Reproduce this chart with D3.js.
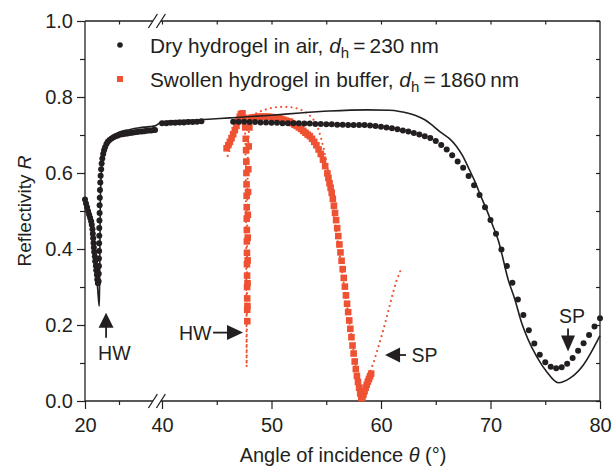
<!DOCTYPE html>
<html><head><meta charset="utf-8">
<script src="https://cdn.jsdelivr.net/npm/d3@7"></script>
<style>
body{margin:0;background:#fff}
svg{display:block}
text{font-family:"Liberation Sans",Arial,Helvetica,sans-serif;fill:#231f20}
</style>
</head><body>
<svg id="c" width="613" height="466"></svg>
<script>
// ---------- DATA ----------
const xMajor = [20, 40, 50, 60, 70, 80];
const xMinor = [21, 45, 55, 65, 75];
const yMajor = [0, 0.2, 0.4, 0.6, 0.8, 1.0];
const yMinor = [0.1, 0.3, 0.5, 0.7, 0.9];
const yAll = [0, 0.1, 0.2, 0.3, 0.4, 0.5, 0.6, 0.7, 0.8, 0.9, 1.0];
const xAll = [21, 40, 45, 50, 55, 60, 65, 70, 75];

// Dry hydrogel in air (measured, black dots)
const dryTheta = [
 20.00,20.03,20.06,20.09,20.12,20.15,20.18,20.20,20.22,20.23,20.24,20.25,20.26,20.27,20.29,20.30,20.32,20.33,20.35,20.36,20.38,
 20.40,20.405,20.41,20.41,20.415,20.415,20.42,20.42,20.425,20.43,20.43,20.435,20.44,20.45,20.46,20.475,20.49,20.51,20.535,20.56,20.59,20.63,20.67,20.72,20.78,20.84,20.90,20.97,21.04,21.11,21.18,21.25,21.32,21.39,21.46,21.53,21.60,21.67,21.74,21.81,21.88,21.95,22.02,22.06,
 40.0,40.4,40.8,41.2,41.6,42.0,42.4,42.8,43.2,43.6,
 46.5,47.0,47.5,48.0,48.5,49.0,49.5,50.0,50.5,51.0,51.5,52.0,52.5,53.0,53.5,54.0,54.5,55.0,55.5,56.0,56.5,57.0,57.5,58.0,58.5,59.0,59.5,60.0,60.5,61.0,61.5,62.0,62.5,63.0,63.5,64.0,64.5,65.0,65.5,66.0,66.5,67.0,67.5,68.0,68.5,69.0,69.5,70.0,70.5,71.0,71.5,72.0,72.5,73.0,73.5,74.0,74.5,75.0,75.5,76.0,76.5,77.0,77.5,78.0,78.5,79.0,79.5,80.0
];
const dryR = [
 .530,.520,.510,.500,.491,.482,.473,.464,.452,.440,.428,.416,.404,.392,.380,.368,.356,.344,.332,.320,.310,
 .315,.335,.355,.375,.395,.415,.435,.455,.475,.495,.515,.535,.555,.575,.593,.610,.625,.638,.650,.660,.668,.676,.682,.687,.691,.694,.697,.699,.701,.702,.703,.704,.705,.706,.707,.708,.709,.709,.710,.711,.712,.712,.713,.713,
 .731,.731,.732,.732,.733,.733,.734,.734,.735,.736,
 .735,.735,.735,.734,.734,.733,.733,.732,.732,.731,.731,.731,.731,.730,.730,.729,.729,.728,.728,.727,.727,.726,.726,.726,.726,.725,.724,.722,.720,.718,.715,.712,.709,.705,.701,.697,.692,.684,.674,.662,.647,.630,.614,.592,.568,.542,.510,.476,.440,.399,.355,.311,.267,.226,.186,.151,.122,.102,.090,.086,.089,.098,.113,.132,.152,.174,.196,.218
];

// Dry hydrogel fit (black solid line)
const dryFitTheta = [20.22,20.30,20.36,20.40,20.42,20.43,20.44,20.45,20.47,20.50,20.55,20.62,20.70,20.80,21.00,21.30,21.60,21.90,22.06,
 40.0,43.5,46.2,50.0,52.6,55.3,58.7,60.8,61.7,63.1,64.0,64.75,65.5,66.3,66.9,67.5,68.0,68.6,69.1,69.65,70.2,70.7,71.63,72.24,72.85,73.45,74.22,75.13,76.19,77.26,78.48,80.0];
const dryFitR = [.45,.38,.31,.265,.25,.32,.42,.52,.58,.62,.65,.672,.688,.698,.707,.714,.719,.722,.724,
 .735,.740,.745,.752,.758,.763,.766,.765,.762,.752,.740,.724,.706,.689,.670,.643,.613,.576,.540,.503,.462,.424,.318,.266,.205,.161,.117,.077,.048,.060,.095,.172];

// Swollen hydrogel in buffer (measured, red squares)
const swTheta = [
 45.9,46.05,46.2,46.35,46.5,46.65,46.8,46.95,47.1,47.2,47.35,
 47.5,47.6,47.65,47.68,47.7,47.71,47.72,47.73,47.74,47.74,47.75,47.75,47.76,47.76,47.77,47.77,47.78,47.78,47.79,
 47.80,47.81,47.82,47.83,47.84,47.86,47.88,47.92,47.98,
 48.1,48.3,48.5,48.7,48.9,49.1,49.3,49.5,49.7,49.9,50.1,50.3,50.5,50.7,50.9,51.1,51.3,51.5,51.7,51.9,52.1,52.3,52.5,52.7,52.9,53.1,53.3,53.5,53.7,53.9,54.1,54.3,54.5,54.7,54.9,55.1,55.2,
 55.3,55.4,55.5,55.6,55.7,55.8,55.9,56.0,56.1,56.2,56.3,56.4,56.5,56.6,56.7,56.8,56.9,57.0,57.1,57.2,57.3,57.4,57.5,57.6,57.7,57.8,57.9,58.0,58.1,58.2,58.3,58.4,58.5,58.6,58.7,58.8,58.9,59.0,59.1
];
const swR = [
 .665,.673,.682,.692,.702,.713,.724,.736,.748,.755,.757,
 .745,.720,.690,.660,.630,.600,.570,.540,.510,.480,.450,.420,.390,.360,.330,.300,.270,.240,.210,
 .250,.310,.370,.430,.490,.550,.610,.670,.720,
 .745,.746,.747,.747,.748,.748,.748,.748,.748,.747,.747,.746,.745,.744,.742,.740,.738,.736,.735,.731,.727,.724,.720,.716,.711,.706,.701,.697,.690,.682,.673,.662,.650,.635,.618,.599,.587,
 .573,.561,.548,.532,.514,.495,.476,.455,.434,.412,.391,.369,.347,.324,.301,.278,.256,.234,.212,.190,.168,.146,.125,.104,.084,.066,.050,.035,.020,.008,.008,.017,.026,.035,.043,.051,.058,.065,.072
];

// Swollen hydrogel fit (red dotted line)
const swFitTheta = [46.0,46.4,46.8,47.1,47.4,47.55,47.62,47.66,47.69,47.71,47.72,47.73,47.74,47.75,47.77,47.80,47.85,47.95,48.2,48.6,49.2,49.8,50.4,51.0,51.6,52.1,52.7,53.3,53.8,54.2,54.5,54.8,55.0,55.2,55.35,55.5,55.8,56.1,56.4,56.7,57.0,57.3,57.6,57.85,58.05,58.2,58.3,58.45,58.65,58.9,59.3,59.6,59.9,60.2,60.5,60.8,61.1,61.4,61.8];
const swFitR = [.645,.680,.715,.740,.752,.740,.680,.550,.400,.250,.150,.090,.150,.250,.400,.550,.660,.720,.745,.757,.765,.770,.773,.774,.774,.772,.766,.757,.742,.722,.695,.660,.632,.600,.555,.529,.470,.410,.350,.290,.230,.170,.110,.065,.030,.012,.008,.015,.040,.070,.099,.127,.156,.186,.218,.252,.285,.315,.345];

// Annotations (arrow tip in data coordinates)
const notes = [
 {label: "HW", theta: 20.62, R: 0.232, dir: "up"},
 {label: "HW", theta: 47.40, R: 0.180, dir: "right"},
 {label: "SP", theta: 60.37, R: 0.121, dir: "left"},
 {label: "SP", theta: 77.08, R: 0.130, dir: "down"}
];

const legendItems = [
 {text: "Dry hydrogel in air, ", value: "230 nm", kind: "dot"},
 {text: "Swollen hydrogel in buffer, ", value: "1860\u2009nm", kind: "square"}
];

// ---------- CHART ----------
const black = "#231f20", red = "#ef5133";
const FS = 20;
const svg = d3.select("#c");
const x = d3.scaleLinear().domain([20, 22.1, 40, 80]).range([85, 156.4, 162, 600]);
const y = d3.scaleLinear().domain([0, 1]).range([401, 21]);
const X0 = x(20), X1 = x(80), Y0 = y(0), Y1 = y(1);
const bc = x(22.1) + 0.5; // break centre

function styleAxis(g) {
  g.select(".domain").remove();
  g.attr("font-size", FS).attr("font-family", '"Liberation Sans", Arial, sans-serif').attr("color", black);
  g.selectAll(".tick line").attr("stroke-width", 1.2);
  g.selectAll(".tick text").attr("fill", black);
}

// bottom axis
svg.append("g").attr("transform", `translate(0,${Y0})`)
  .call(d3.axisBottom(x).tickValues(xMajor).tickFormat(d3.format("d")).tickSize(8).tickPadding(9)).call(styleAxis);
svg.append("g").attr("transform", `translate(0,${Y0})`)
  .call(d3.axisBottom(x).tickValues(xMinor).tickFormat("").tickSize(4)).call(styleAxis);
// top axis (inward ticks)
svg.append("g").attr("transform", `translate(0,${Y1})`)
  .call(d3.axisBottom(x).tickValues(xAll).tickFormat("").tickSize(3.5)).call(styleAxis);
// left axis
svg.append("g").attr("transform", `translate(${X0},0)`)
  .call(d3.axisLeft(y).tickValues(yMajor).tickFormat(d3.format(".1f")).tickSize(8).tickPadding(4)).call(styleAxis);
svg.append("g").attr("transform", `translate(${X0},0)`)
  .call(d3.axisLeft(y).tickValues(yMinor).tickFormat("").tickSize(5)).call(styleAxis);
// right axis (inward ticks)
svg.append("g").attr("transform", `translate(${X1},0)`)
  .call(d3.axisLeft(y).tickValues(yAll).tickFormat("").tickSize(4)).call(styleAxis);

// frame with axis breaks
const frame = svg.append("g").attr("stroke", black).attr("stroke-width", 1.3).attr("fill", "none");
frame.append("line").attr("x1", X0).attr("x2", X0).attr("y1", Y1).attr("y2", Y0);
frame.append("line").attr("x1", X1).attr("x2", X1).attr("y1", Y1).attr("y2", Y0);
[Y0, Y1].forEach(yy => {
  frame.append("line").attr("x1", X0).attr("x2", bc - 4).attr("y1", yy).attr("y2", yy);
  frame.append("line").attr("x1", bc + 4).attr("x2", X1).attr("y1", yy).attr("y2", yy);
  [-4, 4].forEach(o => frame.append("line")
    .attr("x1", bc + o - 4.5).attr("y1", yy + 7).attr("x2", bc + o + 4.5).attr("y2", yy - 7));
});

// swollen data squares
const sq = 6.6;
svg.append("g").selectAll("rect").data(swTheta.map((t, i) => [t, swR[i]])).join("rect")
  .attr("x", d => x(d[0]) - sq / 2).attr("y", d => y(d[1]) - sq / 2)
  .attr("width", sq).attr("height", sq).attr("fill", red);

// swollen fit dotted
svg.append("path").datum(swFitTheta.map((t, i) => [t, swFitR[i]]))
  .attr("fill", "none").attr("stroke", red).attr("stroke-width", 2.2)
  .attr("stroke-linecap", "round").attr("stroke-dasharray", "0,5.2")
  .attr("d", d3.line().x(d => x(d[0])).y(d => y(d[1])));

// dry fit line
svg.append("path").datum(dryFitTheta.map((t, i) => [t, dryFitR[i]]))
  .attr("fill", "none").attr("stroke", black).attr("stroke-width", 1.6)
  .attr("d", d3.line().x(d => x(d[0])).y(d => y(d[1])).curve(d3.curveMonotoneX));

// dry data dots
svg.append("g").selectAll("circle").data(dryTheta.map((t, i) => [t, dryR[i]])).join("circle")
  .attr("cx", d => x(d[0])).attr("cy", d => y(d[1])).attr("r", 3).attr("fill", black);

// legend
const lg = svg.append("g");
legendItems.forEach((it, i) => {
  const cy = 45 + i * 34;
  if (it.kind === "dot") lg.append("circle").attr("cx", 120).attr("cy", cy).attr("r", 2.8).attr("fill", black);
  else lg.append("rect").attr("x", 117).attr("y", cy - 3).attr("width", 6).attr("height", 6).attr("fill", red);
  const t = lg.append("text").attr("x", 150).attr("y", cy + 7.5).attr("font-size", 20.8);
  t.append("tspan").text(it.text);
  t.append("tspan").attr("font-style", "italic").text("d");
  t.append("tspan").attr("font-size", 15).attr("dy", 5).text("h");
  t.append("tspan").attr("dy", -5).text("\u2009=\u2009" + it.value);
});

// annotations
const an = svg.append("g");
const AF = 19.5;
notes.forEach(n => {
  const tx = x(n.theta), ty = y(n.R);
  if (n.dir === "up") {
    an.append("path").attr("d", `M${tx},${ty} L${tx - 7.5},${ty + 15} L${tx + 7.5},${ty + 15} Z`).attr("fill", black);
    an.append("line").attr("x1", tx).attr("x2", tx).attr("y1", ty + 14).attr("y2", ty + 25).attr("stroke", black).attr("stroke-width", 1.8);
    an.append("text").attr("x", tx - 8).attr("y", ty + 47).attr("font-size", AF).text(n.label);
  } else if (n.dir === "right") {
    an.append("path").attr("d", `M${tx},${ty} L${tx - 16},${ty - 7.5} L${tx - 16},${ty + 7.5} Z`).attr("fill", black);
    an.append("line").attr("x1", tx - 15).attr("x2", tx - 30).attr("y1", ty).attr("y2", ty).attr("stroke", black).attr("stroke-width", 1.8);
    an.append("text").attr("x", tx - 31.5).attr("y", ty + 7).attr("text-anchor", "end").attr("font-size", AF).text(n.label);
  } else if (n.dir === "left") {
    an.append("path").attr("d", `M${tx},${ty} L${tx + 15},${ty - 7.5} L${tx + 15},${ty + 7.5} Z`).attr("fill", black);
    an.append("line").attr("x1", tx + 14).attr("x2", tx + 21).attr("y1", ty).attr("y2", ty).attr("stroke", black).attr("stroke-width", 1.8);
    an.append("text").attr("x", tx + 26.5).attr("y", ty + 7).attr("font-size", AF).text(n.label);
  } else {
    an.append("path").attr("d", `M${tx},${ty} L${tx - 7},${ty - 16} L${tx + 7},${ty - 16} Z`).attr("fill", black);
    an.append("line").attr("x1", tx).attr("x2", tx).attr("y1", ty - 15).attr("y2", ty - 23).attr("stroke", black).attr("stroke-width", 1.8);
    an.append("text").attr("x", tx + 4).attr("y", ty - 28.5).attr("text-anchor", "middle").attr("font-size", AF).text(n.label);
  }
});

// axis titles
const xt = svg.append("text").attr("x", 343).attr("y", 462).attr("text-anchor", "middle").attr("font-size", FS);
xt.append("tspan").text("Angle of incidence ");
xt.append("tspan").attr("font-style", "italic").text("\u03b8");
xt.append("tspan").text(" (\u00b0)");
const yt = svg.append("text").attr("transform", "translate(31,211) rotate(-90)").attr("text-anchor", "middle").attr("font-size", 19);
yt.append("tspan").text("Reflectivity ");
yt.append("tspan").attr("font-style", "italic").text("R");
</script>
</body></html>
